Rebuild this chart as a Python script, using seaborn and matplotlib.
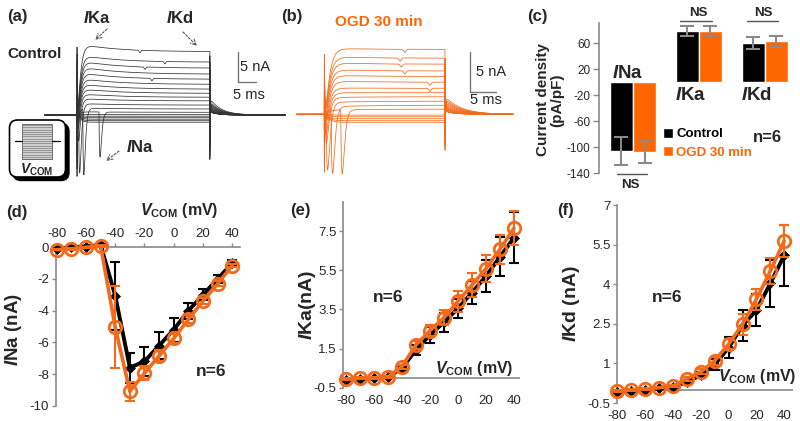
import numpy as np
import pandas as pd
import matplotlib
matplotlib.use("Agg")
import matplotlib.pyplot as plt
import seaborn as sns
from matplotlib.patches import FancyBboxPatch, Rectangle

# ---------------- data ----------------
V_COM = [-80, -70, -60, -50, -40, -30, -20, -10, 0, 10, 20, 30, 40]

ina_ctrl = [-0.1, 0.0, 0.05, 0.15, -3.05, -7.6, -7.2, -6.2, -5.2, -4.0, -3.0, -2.0, -1.0]
ina_ctrl_sd = [0.05, 0.05, 0.05, 0.05, 2.15, 0.95, 0.9, 0.85, 0.75, 0.5, 0.35, 0.25, 0.2]
ina_ogd = [-0.15, -0.1, 0.0, 0.1, -5.05, -9.1, -7.95, -6.85, -5.75, -4.55, -3.4, -2.3, -1.15]
ina_ogd_sd = [0.05, 0.05, 0.05, 0.05, 2.6, 0.6, 0.45, 0.35, 0.3, 0.25, 0.2, 0.15, 0.1]

ika_ctrl = [-0.1, -0.05, -0.02, 0.05, 0.5, 1.43, 2.2, 2.84, 3.55, 4.36, 5.2, 6.18, 7.16]
ika_ctrl_sd = [0.05, 0.05, 0.05, 0.05, 0.1, 0.25, 0.4, 0.5, 0.5, 0.6, 0.8, 1.0, 1.3]
ika_ogd = [-0.08, -0.02, 0.0, 0.06, 0.58, 1.69, 2.42, 3.08, 3.92, 4.74, 5.58, 6.57, 7.65]
ika_ogd_sd = [0.05, 0.05, 0.05, 0.05, 0.1, 0.2, 0.3, 0.4, 0.54, 0.62, 0.7, 0.75, 0.85]

ikd_ctrl = [-0.08, -0.03, 0.0, 0.05, 0.12, 0.3, 0.55, 0.95, 1.6, 2.43, 3.02, 4.03, 5.1]
ikd_ctrl_sd = [0.03, 0.03, 0.03, 0.03, 0.05, 0.08, 0.12, 0.2, 0.4, 0.6, 0.6, 0.9, 1.15]
ikd_ogd = [-0.05, 0.0, 0.03, 0.08, 0.15, 0.42, 0.68, 1.1, 1.73, 2.48, 3.43, 4.5, 5.64]
ikd_ogd_sd = [0.03, 0.03, 0.03, 0.03, 0.05, 0.08, 0.1, 0.15, 0.2, 0.4, 0.4, 0.5, 0.6]

currents = ["INa", "IKa", "IKd"]
dens_ctrl = [-106, 79, 60]
dens_ctrl_err = [21.5, 8, 9.5]
dens_ogd = [-107.5, 79, 63]
dens_ogd_err = [16.8, 8, 8]
groups = ["Control", "OGD 30 min"]

# example current traces (nA), read per trace from the picture
a_leak = [-1.2, -0.95, -0.7, -0.45, -0.2, 0.1]
a_kpk = [0.55, 1.2, 1.95, 2.8, 3.6, 4.45, 5.3, 6.2, 7.2, 8.2, 9.15, 10.1, 11.95]
a_kss = [0.45, 1.0, 1.65, 2.35, 2.95, 3.6, 4.3, 5.1, 5.95, 6.8, 7.8, 8.8, 10.55]
a_na_amp = [7.5, 11.0, 10.5, 5.0, 3.0, 2.0, 1.5, 1.0, 0.8, 0.6, 0.4, 0.3, 0.2]
a_na_lat = [6.1, 1.6, 0.45, 0.2, 0.12, 0.1, 0.1, 0.1, 0.1, 0.1, 0.1, 0.1, 0.1]
a_notch = [0, 0, 0, 0, 0, 0, 0, 0, 20.8, 0, 18.9, 24.4, 17.5]

b_leak = [-1.0, -0.8, -0.55, -0.3, -0.1]
b_kpk = [0.55, 0.95, 1.5, 2.1, 2.7, 3.3, 4.15, 4.9, 5.6, 6.45, 7.2, 8.25]
b_kss = [0.65, 1.15, 1.65, 2.2, 2.7, 3.25, 4.0, 4.7, 5.4, 6.25, 7.0, 8.1]
b_na_amp = [8.0, 8.2, 7.5, 4.0, 3.0, 2.0, 1.5, 1.0, 0.8, 0.5, 0.3, 0.2]
b_na_lat = [3.15, 1.3, 0.35, 0.15, 0.1, 0.1, 0.1, 0.1, 0.1, 0.1, 0.1, 0.1]
b_notch = [0, 0, 0, 0, 0, 20.3, 20.3, 0, 15.5, 14.8, 14.6, 15.5]

# ---------------- style ----------------
sns.set_style("white")
plt.rcParams["font.family"] = ["Liberation Sans", "DejaVu Sans"]
plt.rcParams["mathtext.fontset"] = "custom"
plt.rcParams["mathtext.rm"] = "Liberation Sans:bold"
plt.rcParams["mathtext.it"] = "Liberation Sans:italic:bold"
plt.rcParams["mathtext.bf"] = "Liberation Sans:bold"
plt.rcParams["axes.unicode_minus"] = False

BLACK = "#000000"
ORANGE = "#FF6600"
ORANGE_L = "#F26A1B"
GRAY = "#8a8a8a"

W, H = 800, 421
fig = plt.figure(figsize=(8, 4.21), dpi=100)


def box(x0, y0, x1, y1):
    return [x0 / W, 1 - y1 / H, (x1 - x0) / W, (y1 - y0) / H]


def ftext(x, y, s, **kw):
    kw.setdefault("ha", "center")
    kw.setdefault("va", "center")
    return fig.text(x / W, 1 - y / H, s, **kw)


IKA = r"$\mathit{I}$Ka"
IKD = r"$\mathit{I}$Kd"
INA = r"$\mathit{I}$Na"
VCOM = r"$\mathit{V}_{\mathrm{COM}}$ (mV)"


# ---------------- traces (a), (b) ----------------
def draw_traces(ax, t, T, leak, kpk, kss, na_amp, na_lat, notch, c_lo, c_hi, colour, lw, tail_tau):
    nl = len(leak)
    pk = list(leak) + list(kpk)
    ss = list(leak) + list(kss)
    amp = [0.0] * nl + list(na_amp)
    lat = [1.0] * nl + list(na_lat)
    nt = [0.0] * nl + list(notch)
    n = len(pk)
    c_on = np.linspace(c_lo, c_hi, n)
    s = np.clip(t, 0, None)
    e = np.clip(t - T, 0, None)
    on = (t >= 0) & (t < T)
    post = t >= T
    for i in range(n):
        y = np.zeros_like(t)
        act = 1 - np.exp(-s / 0.7)
        k = ss[i] + (pk[i] - ss[i]) * np.exp(-s / 10.0)
        u = (s - lat[i]) / 0.3
        na = np.where(u > 0, u * np.exp(1 - u), 0.0) * amp[i]
        nch = -0.4 * np.exp(-((s - nt[i]) / 0.3) ** 2) if nt[i] > 0 else 0.0
        cap = c_on[i] * np.exp(-s / 0.1)
        cur = act ** 2 * k - na + nch + cap
        y[on] = cur[on]
        k_end = ss[i] + (pk[i] - ss[i]) * np.exp(-T / 10.0)
        tail = (k_end * 0.38 * np.exp(-e / tail_tau)
                - c_on[i] * (0.9 * np.exp(-e / 0.1) + 0.1 * np.exp(-e / (tail_tau * 0.8))))
        y[post] = tail[post]
        ax.plot(t, y, color=colour, lw=lw, solid_joinstyle="round")


# (a)
axa = fig.add_axes(box(40, 30, 290, 195))
ta = np.arange(-8.9, 57.8, 0.01)
draw_traces(axa, ta, 36.9, a_leak, a_kpk, a_kss, a_na_amp, a_na_lat, a_notch, -11.3, 12.5,
            "#333333", 0.55, 2.8)
axa.set_xlim((40 - 77) / 3.6, (290 - 77) / 3.6)
axa.set_ylim((115 - 195) / 6, (115 - 30) / 6)
axa.axis("off")
sbx = (237.7 - 77) / 3.6
axa.plot([sbx, sbx, sbx + 5], [(115 - 51.7) / 6, (115 - 81.7) / 6, (115 - 81.7) / 6], color="#777777", lw=1)

# (b)
axb = fig.add_axes(box(290, 30, 530, 195))
tb = np.arange(-5.3, 36.3, 0.01)
draw_traces(axb, tb, 23.2, b_leak, b_kpk, b_kss, b_na_amp, b_na_lat, b_notch, -8.0, 8.3,
            ORANGE_L, 0.55, 2.8)
axb.set_xlim((290 - 324.3) / 5.2, (530 - 324.3) / 5.2)
axb.set_ylim((114.3 - 195) / 8, (114.3 - 30) / 8)
axb.axis("off")
sbx = (469.5 - 324.3) / 5.2
axb.plot([sbx, sbx, sbx + 5], [(114.3 - 51.7) / 8, (114.3 - 91.7) / 8, (114.3 - 91.7) / 8], color="#777777", lw=1)

# ---------------- (c) bar chart ----------------
axc = fig.add_axes(box(599, 23.15, 788, 173.3))
df = pd.DataFrame({
    "current": currents * 2,
    "density": dens_ctrl + dens_ogd,
    "group": [groups[0]] * 3 + [groups[1]] * 3,
})
sns.barplot(data=df, x="current", y="density", hue="group", order=currents, hue_order=groups,
            palette=[BLACK, ORANGE], width=0.7, errorbar=None, saturation=1, ax=axc, zorder=2)
xs = np.arange(len(currents))
axc.errorbar(xs - 0.175, dens_ctrl, yerr=dens_ctrl_err, fmt="none", ecolor=GRAY, elinewidth=1.5,
             capsize=4.7, capthick=1.5, zorder=3)
axc.errorbar(xs + 0.175, dens_ogd, yerr=dens_ogd_err, fmt="none", ecolor=GRAY, elinewidth=1.5,
             capsize=4.7, capthick=1.5, zorder=3)
axc.set_xlim(-0.515, 2.35)
axc.set_ylim(-140, 91)
axc.set_yticks([-140, -100, -60, -20, 20, 60])
axc.set_xticks([])
axc.set_xlabel("")
axc.set_ylabel("")
for sp in ["top", "right", "bottom"]:
    axc.spines[sp].set_visible(False)
axc.spines["left"].set_color(GRAY)
axc.spines["left"].set_linewidth(1.2)
axc.tick_params(axis="y", length=4, width=1, color=GRAY, labelsize=8.5, pad=2, left=True)
axc.set_facecolor("none")
handles, labels = axc.get_legend_handles_labels()
if axc.get_legend() is not None:
    axc.get_legend().remove()
fig.legend(handles, labels, loc="upper left", bbox_to_anchor=(663 / W, 1 - 128 / H), frameon=False,
           prop={"weight": "bold", "size": 9.5}, handlelength=0.75, handleheight=0.75,
           handletextpad=0.25, labelspacing=0.45, borderpad=0, borderaxespad=0,
           labelcolor=[BLACK, ORANGE])


# ---------------- IV plots ----------------
def iv(ax, yc, yce, yo, yoe):
    ax.errorbar(V_COM, yc, yerr=yce, fmt="none", ecolor=BLACK, elinewidth=1.5, capsize=3.6,
                capthick=1.5, zorder=3, clip_on=False)
    sns.lineplot(x=V_COM, y=yc, color=BLACK, lw=2.8, marker="D", markersize=5.5,
                 markeredgecolor=BLACK, markerfacecolor=BLACK, markeredgewidth=0.5,
                 errorbar=None, ax=ax, zorder=4, clip_on=False)
    ax.errorbar(V_COM, yo, yerr=yoe, fmt="none", ecolor=ORANGE_L, elinewidth=1.5, capsize=3.6,
                capthick=1.5, zorder=5, clip_on=False)
    sns.lineplot(x=V_COM, y=yo, color=ORANGE_L, lw=2.6, marker="o", markersize=9,
                 markeredgecolor=ORANGE_L, markerfacecolor="none", markeredgewidth=2.0,
                 errorbar=None, ax=ax, zorder=6, clip_on=False)
    ax.set_xlabel("")
    ax.set_ylabel("")
    ax.set_facecolor("none")
    for sp in ax.spines.values():
        sp.set_color(GRAY)
        sp.set_linewidth(1.2)


# (d)
axd = fig.add_axes(box(55.7, 247.3, 240, 405.7))
iv(axd, ina_ctrl, ina_ctrl_sd, ina_ogd, ina_ogd_sd)
axd.set_xlim(-80.7, 45.3)
axd.set_ylim(-10, 0)
axd.set_xticks([-80, -60, -40, -20, 0, 20, 40])
axd.set_yticks([0, -2, -4, -6, -8, -10])
axd.xaxis.tick_top()
axd.spines["bottom"].set_visible(False)
axd.spines["right"].set_visible(False)
axd.tick_params(axis="both", length=3, width=1, color=GRAY, labelsize=9.5, pad=2)
axd.tick_params(axis="x", top=True, bottom=False)
axd.tick_params(axis="y", left=True)

# (e)
axe = fig.add_axes(box(343.3, 201.7, 520, 387.7))
iv(axe, ika_ctrl, ika_ctrl_sd, ika_ogd, ika_ogd_sd)
axe.set_xlim(-81.9, 44.3)
axe.set_ylim(-0.5, 9.0)
axe.set_xticks([-80, -60, -40, -20, 0, 20, 40])
axe.set_yticks([-0.5, 1.5, 3.5, 5.5, 7.5])
for sp in ["top", "right", "bottom"]:
    axe.spines[sp].set_visible(False)
axe.axhline(0, color=GRAY, lw=1.2, zorder=1)
axe.tick_params(axis="x", length=0, labelsize=9.5, pad=5)
axe.tick_params(axis="y", length=3, width=1, color=GRAY, labelsize=9.5, pad=2, left=True)

# (f)
axf = fig.add_axes(box(617.3, 205, 793.3, 403))
iv(axf, ikd_ctrl, ikd_ctrl_sd, ikd_ogd, ikd_ogd_sd)
axf.set_xlim(-80, 46.5)
axf.set_ylim(-0.5, 7.0)
axf.set_xticks([-80, -60, -40, -20, 0, 20, 40])
axf.set_yticks([-0.5, 1, 2.5, 4, 5.5, 7])
axf.set_yticklabels(["-0.5", "1", "2.5", "4", "5.5", "7"])
for sp in ["top", "right", "bottom"]:
    axf.spines[sp].set_visible(False)
axf.axhline(0, color=GRAY, lw=1.2, zorder=1)
axf.tick_params(axis="x", length=0, labelsize=9.5, pad=5)
axf.tick_params(axis="y", length=3, width=1, color=GRAY, labelsize=9.5, pad=2, left=True)

# ---------------- overlay (annotations, inset) ----------------
ov = fig.add_axes([0, 0, 1, 1], zorder=10)
ov.set_xlim(0, W)
ov.set_ylim(H, 0)
ov.axis("off")
ov.patch.set_alpha(0)

# voltage protocol inset
ov.add_patch(FancyBboxPatch((13, 123.5), 56, 57, boxstyle="round,pad=0,rounding_size=8",
                            fc="black", ec="black", lw=1))
ov.add_patch(FancyBboxPatch((9.5, 120), 56, 57, boxstyle="round,pad=0,rounding_size=8",
                            fc="white", ec="black", lw=1.2))
ov.add_patch(Rectangle((22, 123.5), 30, 35, fc="#d0d0d0", ec="#555555", lw=0.6))
for yy in np.linspace(125, 157, 15):
    ov.plot([22, 52], [yy, yy], color="#808080", lw=0.5)
ov.plot([15, 22], [141, 141], color="black", lw=0.9)
ov.plot([52, 60], [141, 141], color="black", lw=0.9)
ov.text(37, 170, r"$\mathit{V}_{\mathrm{COM}}$", ha="center", va="center", fontsize=10, fontweight="bold")

# dashed arrows
arr = dict(arrowstyle="->", linestyle=(0, (2, 1.5)), color="#555555", lw=0.8, shrinkA=0, shrinkB=0)
ov.annotate("", xy=(95, 40), xytext=(107, 29), arrowprops=arr)
ov.annotate("", xy=(197, 46), xytext=(183, 32), arrowprops=arr)
ov.annotate("", xy=(106, 161), xytext=(119, 151), arrowprops=arr)

# NS lines
ov.plot([680, 712], [20.5, 20.5], color="#555555", lw=1)
ov.plot([747, 778], [20.5, 20.5], color="#555555", lw=1)
ov.plot([617, 647], [173.5, 173.5], color="#555555", lw=1)

# ---------------- texts ----------------
B = dict(fontweight="bold")
ftext(17, 16, "(a)", fontsize=12, **B)
ftext(35, 54, "Control", fontsize=11, **B)
ftext(97, 18, IKA, fontsize=12, **B)
ftext(180, 18, IKD, fontsize=12, **B)
ftext(140, 147, INA, fontsize=12, **B)
ftext(240, 67, "5 nA", fontsize=10.5, ha="left")
ftext(249, 95, "5 ms", fontsize=10.5)

ftext(292, 17, "(b)", fontsize=12, **B)
ftext(379, 22, "OGD 30 min", fontsize=11, color=ORANGE, **B)
ftext(476, 72, "5 nA", fontsize=10.5, ha="left")
ftext(486, 100, "5 ms", fontsize=10.5)

ftext(537, 16, "(c)", fontsize=12, **B)
ftext(550, 100, "Current density\n(pA/pF)", fontsize=11, rotation=90, linespacing=1.0,
      multialignment="center", **B)
ftext(628, 73, INA, fontsize=13.5, **B)
ftext(691, 96, IKA, fontsize=13.5, **B)
ftext(756, 96, IKD, fontsize=13.5, **B)
ftext(698, 13, "NS", fontsize=9.5, **B)
ftext(763, 13, "NS", fontsize=9.5, **B)
ftext(630, 185, "NS", fontsize=9.5, **B)
ftext(767, 137, "n=6", fontsize=12, **B)

ftext(17, 213, "(d)", fontsize=12, **B)
ftext(179, 210, VCOM, fontsize=11.5, **B)
ftext(211, 371, "n=6", fontsize=12.5, **B)
ftext(13, 330, r"$\mathit{I}$Na (nA)", fontsize=13.5, rotation=90, **B)

ftext(300, 210, "(e)", fontsize=12, **B)
ftext(308, 305, r"$\mathit{I}$Ka(nA)", fontsize=14, rotation=90, **B)
ftext(388, 298, "n=6", fontsize=12.5, **B)
ftext(474, 368, VCOM, fontsize=11.5, **B)

ftext(566, 211, "(f)", fontsize=12, **B)
ftext(571, 304, r"$\mathit{I}$Kd (nA)", fontsize=14, rotation=90, **B)
ftext(667, 297, "n=6", fontsize=12.5, **B)
ftext(757, 377, VCOM, fontsize=11.5, **B)

fig.savefig("out.png", dpi=100)
